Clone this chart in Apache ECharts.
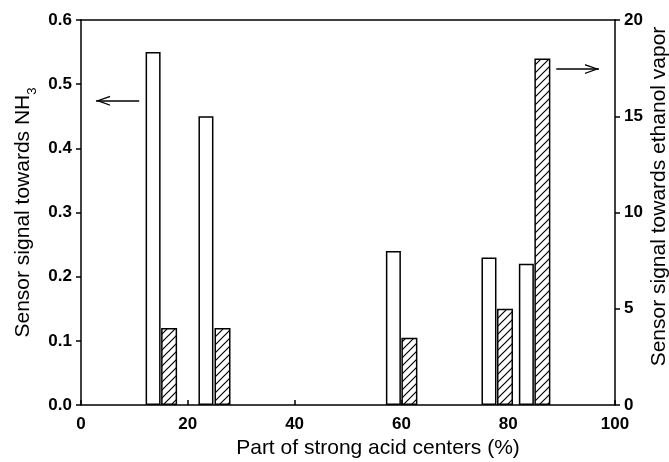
<!DOCTYPE html>
<html>
<head>
<meta charset="utf-8">
<script src="https://cdn.jsdelivr.net/npm/echarts@6/dist/echarts.min.js"></script>
<style>
html,body{margin:0;padding:0;background:#fff;overflow:hidden;width:669px;height:462px;}
#chart{width:669px;height:462px;}
</style>
</head>
<body>
<div id="chart"></div>
<script>
// Data
const xNH3 = [13.5, 23.4, 58.5, 76.4, 83.4];     // % strong acid centers (white bars)
const nh3  = [0.55, 0.45, 0.24, 0.23, 0.22];     // sensor signal towards NH3
const xEth = [16.5, 26.5, 61.5, 79.4, 86.4];     // % strong acid centers (hatched bars)
const eth  = [4.0, 4.0, 3.5, 5.0, 18.0];         // sensor signal towards ethanol vapor
const xTicks = [0, 20, 40, 60, 80, 100];
const leftTicks = [0, 0.1, 0.2, 0.3, 0.4, 0.5, 0.6];
const rightTicks = [0, 5, 10, 15, 20];
// annotation arrows (data coordinates)
const leftArrow = [[10.9, 0.474], [2.8, 0.474]];
const rightArrow = [[89.0, 17.45], [97.0, 17.45]];

const FONT = "'Liberation Sans', Arial, sans-serif";

// hatch pattern
const pc = document.createElement('canvas');
pc.width = 8; pc.height = 8;
const g = pc.getContext('2d');
g.fillStyle = '#fff'; g.fillRect(0, 0, 8, 8);
g.strokeStyle = '#000'; g.lineWidth = 1.2;
g.beginPath();
g.moveTo(-4, 4); g.lineTo(4, -4);
g.moveTo(0, 8); g.lineTo(8, 0);
g.moveTo(4, 12); g.lineTo(12, 4);
g.stroke();

const chart = echarts.init(document.getElementById('chart'), null, {renderer: 'canvas', width: 669, height: 462});
const axisLine = {show: true, onZero: false, lineStyle: {color: '#000', width: 1.5}};
const tickLabel = {color: '#000', fontFamily: FONT, fontWeight: 'bold', fontSize: 17};
const chevron = 'path://M0,14 L5,0 L10,14 L8.6,14 L5,3.6 L1.4,14 Z';

chart.setOption({
  animation: false,
  grid: {left: 81, right: 54, top: 20, bottom: 57, containLabel: false, outerBoundsMode: 'none'},
  xAxis: [{
    type: 'value', min: xTicks[0], max: xTicks[xTicks.length - 1], interval: 20,
    position: 'bottom',
    axisLine: axisLine,
    axisTick: {show: true, inside: true, length: 5, lineStyle: {color: '#000', width: 1.5}},
    splitLine: {show: false},
    axisLabel: Object.assign({margin: 11}, tickLabel),
    name: 'Part of strong acid centers (%)',
    nameLocation: 'middle', nameGap: 33, nameMoveOverlap: false,
    nameTextStyle: {color: '#000', fontFamily: FONT, fontSize: 21, padding: [0, 0, 0, 60]}
  }, {
    type: 'value', min: xTicks[0], max: xTicks[xTicks.length - 1],
    position: 'top',
    axisLine: axisLine,
    axisTick: {show: false}, axisLabel: {show: false}, splitLine: {show: false}
  }],
  yAxis: [{
    type: 'value', min: leftTicks[0], max: leftTicks[leftTicks.length - 1], interval: 0.1,
    position: 'left',
    axisLine: axisLine,
    axisTick: {show: true, inside: false, length: 5, lineStyle: {color: '#000', width: 1.5}},
    splitLine: {show: false},
    axisLabel: Object.assign({margin: 9, formatter: v => v.toFixed(1)}, tickLabel),
    name: '{n|Sensor signal towards NH}{s|3}',
    nameLocation: 'middle', nameGap: 47, nameMoveOverlap: false,
    nameTextStyle: {
      color: '#000', fontFamily: FONT, fontSize: 21,
      rich: {
        n: {color: '#000', fontFamily: FONT, fontSize: 21, verticalAlign: 'bottom'},
        s: {color: '#000', fontFamily: FONT, fontSize: 13, verticalAlign: 'bottom', padding: [0, 0, -5, 0]}
      }
    }
  }, {
    type: 'value', min: rightTicks[0], max: rightTicks[rightTicks.length - 1], interval: 5,
    position: 'right',
    axisLine: axisLine,
    axisTick: {show: true, inside: false, length: 5, lineStyle: {color: '#000', width: 1.5}},
    splitLine: {show: false},
    axisLabel: Object.assign({margin: 9}, tickLabel),
    name: 'Sensor signal towards ethanol vapor',
    nameLocation: 'middle', nameGap: 34, nameMoveOverlap: false,
    nameTextStyle: {color: '#000', fontFamily: FONT, fontSize: 21, padding: [0, 0, 0, 32]}
  }],
  series: [{
    type: 'bar',
    xAxisIndex: 0, yAxisIndex: 0,
    barWidth: 15,
    data: xNH3.map((x, i) => [x, nh3[i]]),
    itemStyle: {color: '#fff', borderColor: '#000', borderWidth: 1.5},
    z: 3,
    markLine: {
      silent: true, animation: false,
      symbol: ['none', chevron], symbolSize: [10, 14], symbolOffset: [0, [0, 7]],
      label: {show: false},
      lineStyle: {color: '#000', width: 1.5, type: 'solid'},
      data: [[{coord: leftArrow[0]}, {coord: leftArrow[1]}]]
    }
  }, {
    type: 'bar',
    xAxisIndex: 1, yAxisIndex: 1,
    barWidth: 16,
    data: xEth.map((x, i) => [x, eth[i]]),
    itemStyle: {color: {image: pc, repeat: 'repeat'}, borderColor: '#000', borderWidth: 1.5},
    z: 4,
    markLine: {
      silent: true, animation: false,
      symbol: ['none', chevron], symbolSize: [10, 14], symbolOffset: [0, [0, 7]],
      label: {show: false},
      lineStyle: {color: '#000', width: 1.5, type: 'solid'},
      data: [[{coord: rightArrow[0]}, {coord: rightArrow[1]}]]
    }
  }]
});
</script>
</body>
</html>
